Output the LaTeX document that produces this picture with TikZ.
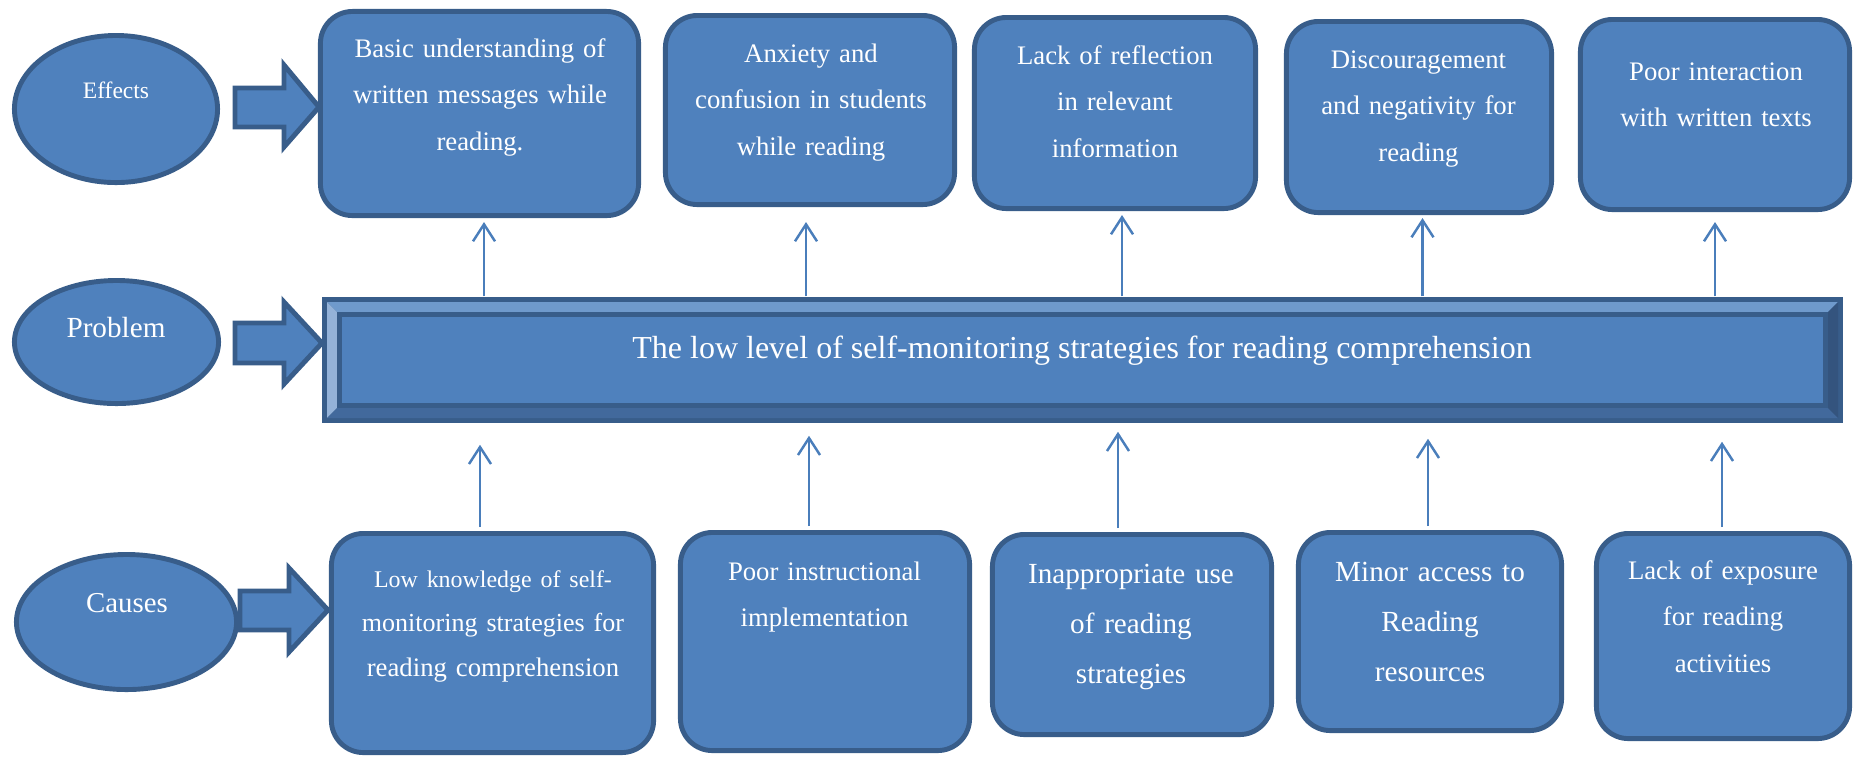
\documentclass[tikz,border=0pt]{standalone}
\usepackage{fontspec}
\setmainfont{Liberation Serif}
\usetikzlibrary{shapes.geometric,arrows.meta,calc}

\definecolor{boxblue}{HTML}{4F81BD}
\definecolor{edgeblue}{HTML}{385D8A}
\definecolor{lineblue}{HTML}{4A7EBB}
\definecolor{bevtop}{HTML}{6F9ACC}
\definecolor{bevleft}{HTML}{94B2D8}
\definecolor{bevbot}{HTML}{42699C}
\definecolor{bevright}{HTML}{34547E}

\tikzset{
  box/.style={draw=edgeblue, fill=boxblue, line width=1.4pt, rounded corners=0.32cm, inner sep=0pt},
  oval/.style={ellipse, draw=edgeblue, fill=boxblue, line width=1.4pt, inner sep=0pt},
  txt/.style={text=white, text width=3.1cm, align=center, anchor=base, inner sep=0pt},
  txtS/.style={font=\fontsize{7.6}{13.3}\selectfont},
  txtL/.style={font=\fontsize{8.3}{14.3}\selectfont},
  link/.style={draw=lineblue, line width=0.7pt, -{Straight Barb[length=1.7mm,width=2.2mm]}},
  fat arrow/.style={draw=edgeblue, fill=boxblue, line width=1.4pt, line join=miter}
}

\begin{document}
\begin{tikzpicture}[x=0.01cm, y=-0.01cm]
\useasboundingbox (0,0) rectangle (1861,756);

% left column: ovals and block arrows
\node[oval, minimum width=2.03cm, minimum height=1.47cm] (effOval) at (116,109) {};
\node[oval, minimum width=2.04cm, minimum height=1.23cm] (probOval) at (116.5,342) {};
\node[oval, minimum width=2.20cm, minimum height=1.35cm] (causeOval) at (126.5,622) {};
\node[txt, font=\fontsize{6.7}{8}\selectfont] (effLabel) at (116,98) {Effects};
\node[txt, font=\fontsize{8.3}{10}\selectfont] (probLabel) at (116,337) {Problem};
\node[txt, font=\fontsize{8.2}{10}\selectfont] (causeLabel) at (127,612) {Causes};

\draw[fat arrow] (235,88) -- (284,88) -- (284,65) -- (319,107) -- (284,147) -- (284,127) -- (235,127) -- cycle;
\draw[fat arrow] (235,323) -- (284,323) -- (284,302) -- (322,343) -- (284,384) -- (284,363) -- (235,363) -- cycle;
\draw[fat arrow] (240,591) -- (289,591) -- (289,568) -- (328,610) -- (289,652) -- (289,630) -- (240,630) -- cycle;

% the problem bar
\node[fill=edgeblue, minimum width=15.21cm, minimum height=1.26cm, inner sep=0pt] (prob) at (1082.5,360) {};
\fill[bevtop] (327,302) -- (1838,302) -- (1828,312) -- (337,312) -- cycle;
\fill[bevleft] (327,302) -- (337,312) -- (337,408) -- (327,418) -- cycle;
\fill[bevbot] (327,418) -- (337,408) -- (1828,408) -- (1838,418) -- cycle;
\fill[bevright] (1838,302) -- (1838,418) -- (1828,408) -- (1828,312) -- cycle;
\fill[edgeblue] (337,312) rectangle (1828,408);
\fill[boxblue] (342,317) rectangle (1823,403);
\node[text=white, anchor=base, inner sep=0pt, font=\fontsize{9.1}{11}\selectfont] (probText) at (1082,358)
  {The low level of self-monitoring strategies for reading comprehension};

% effects
\node[box, minimum width=3.18cm, minimum height=2.04cm] (e1) at (479.5,113.5) {};
\node[box, minimum width=2.89cm, minimum height=1.89cm] (e2) at (810,110) {};
\node[box, minimum width=2.81cm, minimum height=1.91cm] (e3) at (1115,113) {};
\node[box, minimum width=2.65cm, minimum height=1.91cm] (e4) at (1419,117) {};
\node[box, minimum width=2.69cm, minimum height=1.90cm] (e5) at (1715,114.5) {};
\node[txt, txtS] (e1t) at (480,57) {Basic understanding of\\written messages while\\reading.};
\node[txt, txtS] (e2t) at (811,62) {Anxiety and\\confusion in students\\while reading};
\node[txt, txtS] (e3t) at (1115,64) {Lack of reflection\\in relevant\\information};
\node[txt, txtS] (e4t) at (1418.5,68) {Discouragement\\and negativity for\\reading};
\node[txt, txtS] (e5t) at (1716,80) {Poor interaction\\with written texts};

% causes
\node[box, minimum width=3.22cm, minimum height=2.19cm] (c1) at (492.5,643) {};
\node[box, minimum width=2.89cm, minimum height=2.18cm] (c2) at (825,641.5) {};
\node[box, minimum width=2.79cm, minimum height=2.00cm] (c3) at (1132,634.5) {};
\node[box, minimum width=2.63cm, minimum height=1.98cm] (c4) at (1430,631.5) {};
\node[box, minimum width=2.53cm, minimum height=2.05cm] (c5) at (1723,636) {};
\node[txt, font=\fontsize{7.6}{12.7}\selectfont] (c1t) at (493,587)
  {{\fontsize{6.8}{12.7}\selectfont Low knowledge of self-}\\{\fontsize{7.4}{12.7}\selectfont monitoring strategies for}\\reading comprehension};
\node[txt, txtS] (c2t) at (824.5,580) {Poor instructional\\implementation};
\node[txt, txtL] (c3t) at (1131,583) {Inappropriate use\\of reading\\strategies};
\node[txt, txtL] (c4t) at (1430,581) {Minor access to\\Reading\\resources};
\node[txt, txtS] (c5t) at (1723,579) {Lack of exposure\\for reading\\activities};

% arrows
\foreach \n/\dx/\gap in {e1/4.5/4, e2/-4/15, e3/7/4, e4/3.5/3, e5/0/10}
  \draw[link] ($(\n.south |- prob.north)+(\dx,0)$) -- ($(\n.south)+(\dx,\gap)$);
\foreach \n/\dx/\gap in {c1/-12.5/21, c2/-16/12, c3/-14/8, c4/-2/15, c5/-1/18}
  \draw[link] ($(\n.north)+(\dx,-4)$) -- ($(\n.north |- prob.south)+(\dx,\gap)$);
\end{tikzpicture}
\end{document}
